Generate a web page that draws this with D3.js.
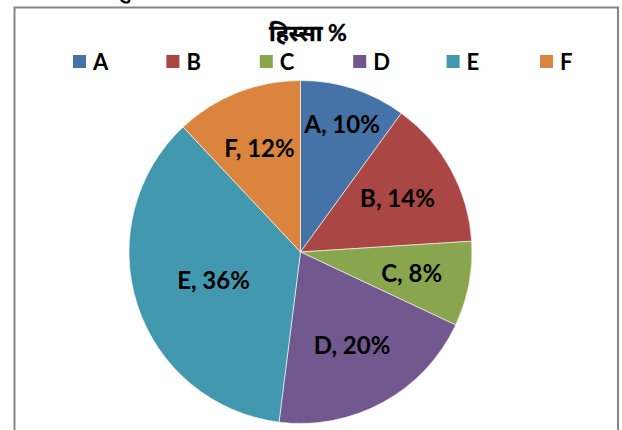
<!DOCTYPE html>
<html>
<head>
<meta charset="utf-8">
<script src="https://cdn.jsdelivr.net/npm/d3@7"></script>
<style>
  body { margin: 0; background: #fff; }
  svg { display: block; font-family: Lato, "Noto Sans", sans-serif; }
</style>
</head>
<body>
<svg class="chart" width="622" height="430"></svg>
<script>
// data
var categories = ["A", "B", "C", "D", "E", "F"];
var shares = [10, 14, 8, 20, 36, 12];
var colors = ["#4572A7", "#AA4643", "#89A54E", "#71588F", "#4198AF", "#DB843D"];
var title = "हिस्सा %";

var data = categories.map(function(c, i) { return {cat: c, value: shares[i]}; });

var width = 622, height = 430;
var cx = 300.5, cy = 252, radius = 171.5;

var svg = d3.select(".chart");

// cut-off line of text above the chart box
svg.append("text")
  .attr("x", 118).attr("y", -2)
  .attr("font-size", 20).attr("font-weight", "bold")
  .attr("fill", "#000")
  .text("कु");
svg.append("text")
  .attr("x", 140).attr("y", -3)
  .attr("font-size", 18)
  .attr("fill", "#ccc")
  .text("ल  प्र  ति  श  त  (  y  g  )  ज  ज  ज  प  ,  ,  ,  ज");

// chart area border
svg.append("rect")
  .attr("x", 14.5).attr("y", 7.5)
  .attr("width", 603.5).attr("height", 440)
  .attr("fill", "#fff")
  .attr("stroke", "#868686").attr("stroke-width", 2);

svg.append("text")
  .attr("x", 308).attr("y", 41)
  .attr("text-anchor", "middle")
  .attr("font-size", 23).attr("font-weight", "bold")
  .attr("stroke", "#000").attr("stroke-width", 0.4)
  .text(title);

var color = d3.scaleOrdinal().domain(categories).range(colors);

// legend
var lx = d3.scalePoint().domain(categories).range([73, 540]);
var leg = svg.append("g").selectAll("g")
  .data(categories).enter().append("g")
  .attr("transform", function(d) { return "translate(" + lx(d) + ",55)"; });
leg.append("rect")
  .attr("width", 13).attr("height", 13)
  .attr("fill", function(d) { return color(d); });
leg.append("text")
  .attr("x", 20).attr("y", 14.5)
  .attr("font-size", 22).attr("font-weight", "bold")
  .text(function(d) { return d; });

// pie
var pie = d3.pie().sort(null).value(function(d) { return d.value; });
var arc = d3.arc().innerRadius(0).outerRadius(radius);
var arcs = pie(data);

var g = svg.append("g").attr("transform", "translate(" + cx + "," + cy + ")");

g.selectAll("path")
  .data(arcs).enter().append("path")
  .attr("d", arc)
  .attr("fill", function(d) { return color(d.data.cat); })
  .attr("stroke", "#fff").attr("stroke-width", 0.6);

// labels: start at the slice's area centroid and push outward until the text box fits
function inside(px, py, d, pad) {
  var dist = Math.sqrt(px * px + py * py);
  if (dist > radius - pad) return false;
  var a = Math.atan2(px, -py);
  if (a < 0) a += 2 * Math.PI;
  if (a < d.startAngle || a > d.endAngle) return false;
  var e1 = Math.abs(px * Math.cos(d.startAngle) + py * Math.sin(d.startAngle));
  var e2 = Math.abs(px * Math.cos(d.endAngle) + py * Math.sin(d.endAngle));
  return e1 >= pad && e2 >= pad;
}

g.selectAll(".lbl")
  .data(arcs).enter().append("text")
  .attr("class", "lbl")
  .attr("text-anchor", "middle")
  .attr("font-size", 24).attr("font-weight", "bold")
  .attr("fill", "#000")
  .text(function(d) { return d.data.cat + ", " + d.data.value + "%"; })
  .each(function(d) {
    var bb = this.getBBox();
    var w = bb.width / 2, h = 8.5;
    var theta = d.endAngle - d.startAngle;
    var mid = (d.startAngle + d.endAngle) / 2;
    var r0 = 2 * radius * Math.sin(theta / 2) / (1.5 * theta);
    var r = r0, x, y;
    for (; r < radius; r += 1) {
      x = r * Math.sin(mid); y = -r * Math.cos(mid);
      if (inside(x - w, y - h, d, 3) && inside(x + w, y - h, d, 3) &&
          inside(x - w, y + h, d, 3) && inside(x + w, y + h, d, 3)) break;
    }
    d3.select(this).attr("x", x).attr("y", y + h);
  });
</script>
</body>
</html>
